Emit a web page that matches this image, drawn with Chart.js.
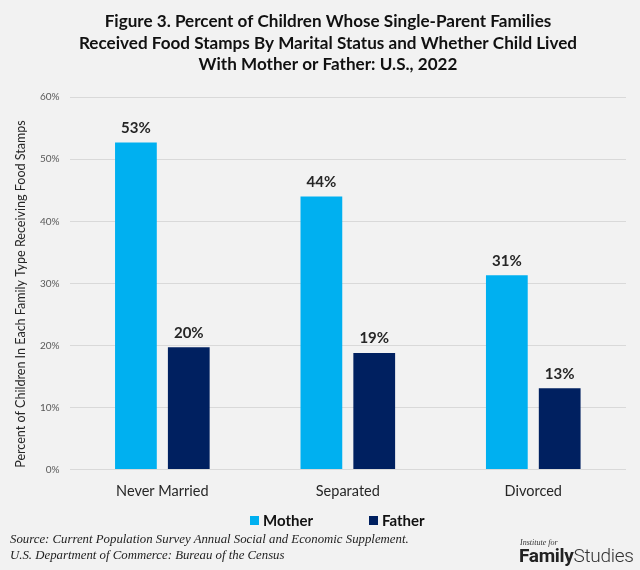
<!DOCTYPE html>
<html>
<head>
<meta charset="utf-8">
<script src="https://cdn.jsdelivr.net/npm/chart.js@4.4.1/dist/chart.umd.min.js"></script>
<style>
  html, body { margin: 0; padding: 0; background: #f2f2f2; }
  #wrap { position: relative; width: 640px; height: 570px; background: #f2f2f2; overflow: hidden; }
  #c { position: absolute; left: 0; top: 0; }
  .src { position: absolute; left: 10px; font-family: "Liberation Serif", "DejaVu Serif", serif; font-style: italic; font-size: 12.8px; color: #222; white-space: nowrap; }
  .logo1 { position: absolute; left: 520px; top: 538px; font-family: "Liberation Serif", serif; font-style: italic; font-size: 8px; color: #333; }
  .logo2 { position: absolute; left: 519px; top: 544px; font-family: Roboto, "Open Sans", sans-serif; font-size: 19px; color: #222; white-space: nowrap; letter-spacing: -0.3px; }
  .logo2 b { font-weight: 700; }
  .logo2 span { font-weight: 300; color: #333; }
  .leg { position: absolute; top: 510px; height: 20px; display: flex; align-items: center; font-family: Lato, "Open Sans", sans-serif; font-weight: bold; font-size: 15px; color: #111; white-space: nowrap; }
  .leg i { display: inline-block; width: 9px; height: 9px; margin-right: 4px; }
</style>
</head>
<body>
<div id="wrap">
  <canvas id="c" width="640" height="570"></canvas>
  <div id="legend"></div>
  <div class="src" style="top:532px">Source: Current Population Survey Annual Social and Economic Supplement.</div>
  <div class="src" style="top:548px">U.S. Department of Commerce: Bureau of the Census</div>
  <div class="logo1">Institute for</div>
  <div class="logo2"><b>Family</b><span>Studies</span></div>
</div>
<script>
const categories = ["Never Married", "Separated", "Divorced"];
const motherValues = [52.7, 44.0, 31.3];
const fatherValues = [19.7, 18.8, 13.1];
const seriesNames = ["Mother", "Father"];
const seriesColors = ["#00b0f0", "#002060"];
const titleLines = [
  "Figure 3. Percent of Children Whose Single-Parent Families",
  "Received Food Stamps By Marital Status and Whether Child Lived",
  "With Mother or Father: U.S., 2022"
];
const yAxisTitle = "Percent of Children In Each Family Type Receiving Food Stamps";

// HTML legend built from the series
const legendLeft = [250, 369];
const legendEl = document.getElementById("legend");
seriesNames.forEach((name, i) => {
  const d = document.createElement("div");
  d.className = "leg";
  d.style.left = legendLeft[i] + "px";
  const sw = document.createElement("i");
  sw.style.background = seriesColors[i];
  d.appendChild(sw);
  d.appendChild(document.createTextNode(name));
  legendEl.appendChild(d);
});

const valueLabels = {
  id: "valueLabels",
  afterDatasetsDraw(chart) {
    const ctx = chart.ctx;
    ctx.save();
    ctx.font = "bold 15px Lato, 'Open Sans', sans-serif";
    ctx.fillStyle = "#262626";
    ctx.textAlign = "center";
    ctx.textBaseline = "bottom";
    chart.data.datasets.forEach((ds, i) => {
      const meta = chart.getDatasetMeta(i);
      meta.data.forEach((bar, j) => {
        ctx.fillText(Math.round(ds.data[j]) + "%", bar.x, bar.y - 7);
      });
    });
    ctx.restore();
  }
};

// Y axis title drawn a little below the plot's centre, as in the reference
const yTitle = {
  id: "yTitle",
  afterDraw(chart) {
    const ctx = chart.ctx;
    ctx.save();
    let size = 12;
    ctx.font = size + "px Lato, 'Open Sans', sans-serif";
    const w = ctx.measureText(yAxisTitle).width;
    size = size * 348 / w;
    ctx.font = size + "px Lato, 'Open Sans', sans-serif";
    ctx.fillStyle = "#262626";
    ctx.textAlign = "center";
    ctx.textBaseline = "middle";
    ctx.translate(21, 294);
    ctx.rotate(-Math.PI / 2);
    ctx.fillText(yAxisTitle, 0, 0);
    ctx.restore();
  }
};

new Chart(document.getElementById("c"), {
  type: "bar",
  data: {
    labels: categories,
    datasets: seriesNames.map((name, i) => ({
      label: name,
      data: i === 0 ? motherValues : fatherValues,
      backgroundColor: seriesColors[i],
      categoryPercentage: 0.57,
      barPercentage: 0.79
    }))
  },
  options: {
    responsive: false,
    animation: false,
    devicePixelRatio: 1,
    layout: { padding: { left: 30, right: 14, top: 0, bottom: 57 } },
    plugins: {
      title: {
        display: true,
        text: titleLines,
        color: "#111",
        font: { family: "Lato, 'Open Sans', sans-serif", size: 17.1, weight: "bold", lineHeight: 1.25 },
        padding: { top: 11, bottom: 22 }
      },
      legend: { display: false },
      tooltip: { enabled: false }
    },
    scales: {
      x: {
        grid: { display: false, drawTicks: false },
        border: { display: false },
        ticks: { color: "#262626", font: { family: "Lato, 'Open Sans', sans-serif", size: 14.5 }, padding: 13 }
      },
      y: {
        min: 0, max: 60,
        ticks: { stepSize: 10, color: "#595959", font: { family: "Lato, 'Open Sans', sans-serif", size: 10 }, callback: v => v + "%", padding: 10 },
        grid: { color: "#d9d9d9", drawTicks: false },
        border: { display: false }
      }
    }
  },
  plugins: [valueLabels, yTitle]
});
</script>
</body>
</html>
